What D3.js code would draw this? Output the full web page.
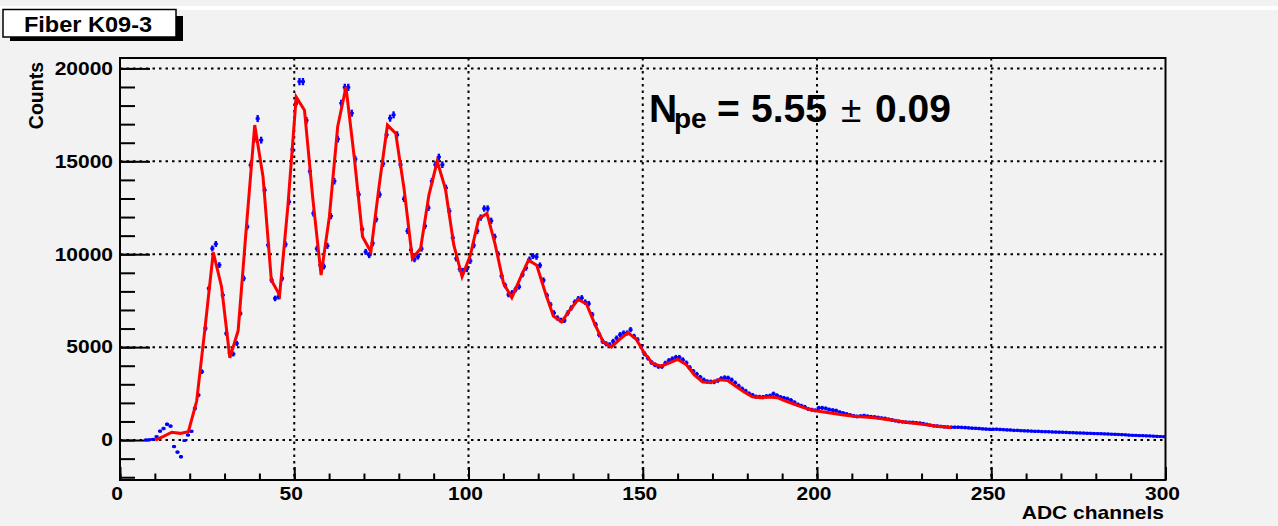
<!DOCTYPE html>
<html>
<head>
<meta charset="utf-8">
<script src="https://cdn.jsdelivr.net/npm/d3@7"></script>
<style>
  body { margin: 0; background: #f2f2f2; }
  svg { display: block; font-family: "Liberation Sans", Arial, Helvetica, sans-serif; font-weight: bold; }
  .domain { display: none; }
</style>
</head>
<body>
<div id="plot"></div>
<script>
// histogram contents, one value per ADC channel (bin i covers [i, i+1]), null = empty bin
var adcCounts = [
  null, null, null, null, null, null, null, 10, 20, 40,
  180, 480, 620, 850, 750, -350, -650, -900, -30, 270,
  470, 1700, 2420, 3680, 6010, 8160, 10310, 10550, 9415, 7800,
  5740, 4700, 4630, 5200, 6810, 8700, 11480, 14800, 16180, 17300,
  16140, 13450, 10490, 8610, 7620, 7710, 8700, 10530, 12820, 15640,
  18110, 19290, 19290, 17200, 14460, 12200, 10300, 9410, 9340, 10450,
  12050, 13930, 16200, 18125, 18980, 18980, 17590, 15125, 13210, 11340,
  10125, 9950, 10590, 11880, 13210, 14875, 16430, 17320, 17500, 16430,
  14820, 12980, 11250, 10230, 9730, 9875, 10300, 11520, 12500, 13930,
  14820, 15230, 14820, 13570, 12320, 10890, 9770, 9200, 9110, 9200,
  9640, 10480, 11250, 11970, 12460, 12460, 11800, 10940, 10000, 8830,
  8320, 7830, 7920, 8100, 8250, 8910, 9270, 9720, 9900, 9860,
  9400, 8600, 7780, 7290, 6840, 6570, 6440, 6440, 6840, 7110,
  7420, 7600, 7650, 7420, 7340, 6750, 6210, 5670, 5310, 5180,
  5130, 5310, 5490, 5670, 5760, 5760, 5940, 5580, 5400, 5040,
  4640, 4410, 4180, 4050, 3960, 3960, 4140, 4280, 4370, 4450,
  4450, 4320, 4150, 3900, 3700, 3545, 3380, 3240, 3150, 3130,
  3130, 3200, 3310, 3360, 3340, 3240, 3080, 2910, 2760, 2640,
  2500, 2420, 2330, 2320, 2310, 2360, 2380, 2490, 2400, 2310,
  2260, 2220, 2145, 2030, 1910, 1840, 1780, 1670, 1630, 1600,
  1730, 1730, 1700, 1640, 1610, 1580, 1500, 1450, 1400, 1345,
  1300, 1270, 1290, 1310, 1280, 1250, 1240, 1210, 1180, 1160,
  1120, 1080, 1040, 1000, 980, 960, 950, 945, 925, 910,
  880, 840, 800, 765, 750, 730, 710, 700, 690, 690,
  690, 680, 670, 655, 640, 630, 620, 600, 590, 580,
  580, 585, 570, 560, 545, 540, 520, 520, 505, 495,
  490, 480, 470, 470, 455, 450, 445, 435, 430, 425,
  420, 410, 400, 395, 385, 380, 375, 365, 360, 350,
  345, 340, 330, 325, 315, 310, 300, 290, 280, 265,
  255, 250, 240, 235, 225, 220, 210, 200, 190, 180
];

// fit function sampled by ROOT (polyline vertices)
var fitStart = 10.1;
var fitStep = 2.38;
var fitValues = [
  0, 200, 420, 360, 450, 2100, 6000, 10100, 8250, 4430,
  5890, 11500, 16950, 14170, 8610, 7800, 12600, 18470, 17750, 13000,
  8880, 12020, 16860, 19000, 15210, 10940, 10130, 13680, 16950, 16500,
  13540, 9770, 10310, 13180, 15000, 13500, 10500, 8790, 9950, 11900,
  12200, 10500, 8430, 7660, 8700, 9680, 9410, 7980, 6670, 6360,
  7000, 7570, 7320, 6240, 5290, 5000, 5420, 5780, 5420, 4660,
  4110, 3980, 4160, 4340, 4070, 3500, 3120, 3100, 3250, 3200,
  2900, 2580, 2330, 2280, 2310, 2280, 2100, 1940, 1770, 1630,
  1550, 1480, 1410, 1350, 1290, 1260, 1230, 1190, 1120, 1060,
  1000, 930, 880, 820, 760, 710, 660
];

var xMajor = [0, 50, 100, 150, 200, 250, 300];
var yMajor = [0, 5000, 10000, 15000, 20000];
var xMinor = d3.range(0, 301, 10);
var yMinor = d3.range(-2000, 20001, 1000);

var titleText = "Fiber K09-3";
var xTitle = "ADC channels";
var yTitle = "Counts";

var svgWidth = 1278;
var svgHeight = 526;

var frame = { left: 120, right: 1165.5, top: 58, bottom: 480 };

var svg = d3.select("#plot")
  .append("svg")
  .attr("width", svgWidth)
  .attr("height", svgHeight);

svg.append("rect")
  .attr("width", svgWidth)
  .attr("height", svgHeight)
  .attr("fill", "#f2f2f2");

// thin white strip at the very top of the canvas
svg.append("rect")
  .attr("x", 0).attr("y", 6)
  .attr("width", svgWidth).attr("height", 4)
  .attr("fill", "#ffffff");

var x = d3.scaleLinear().domain([0, 300]).range([frame.left, frame.right]);
var y = d3.scaleLinear().domain([-2150, 20560]).range([frame.bottom, frame.top]);

// Step 1: dotted grid
var grid = svg.append("g")
  .attr("stroke", "#000")
  .attr("stroke-width", 2)
  .attr("stroke-dasharray", "2.5,4");

grid.selectAll(".gx")
  .data(xMajor.slice(1, -1))
  .enter()
  .append("line")
  .attr("x1", d => x(d)).attr("x2", d => x(d))
  .attr("y1", frame.top).attr("y2", frame.bottom);

grid.selectAll(".gy")
  .data(yMajor)
  .enter()
  .append("line")
  .attr("y1", d => y(d)).attr("y2", d => y(d))
  .attr("x1", frame.left).attr("x2", frame.right);

// Step 2: ticks (ROOT style, pointing into the frame)
var tickStyle = function(g) {
  g.selectAll("line").attr("stroke", "#000").attr("stroke-width", 2);
};

svg.append("g")
  .attr("transform", `translate(${frame.left},0)`)
  .call(d3.axisLeft(y).tickValues(yMinor).tickSize(-15).tickFormat(""))
  .call(tickStyle);

svg.append("g")
  .attr("transform", `translate(${frame.left},0)`)
  .call(d3.axisLeft(y).tickValues(yMajor).tickSize(-30).tickFormat(""))
  .call(tickStyle);

svg.append("g")
  .attr("transform", `translate(0,${frame.bottom})`)
  .call(d3.axisBottom(x).tickValues(xMinor).tickSize(-6.5).tickFormat(""))
  .call(tickStyle);

svg.append("g")
  .attr("transform", `translate(0,${frame.bottom})`)
  .call(d3.axisBottom(x).tickValues(xMajor).tickSize(-13).tickFormat(""))
  .call(tickStyle);

// frame
svg.append("rect")
  .attr("x", frame.left).attr("y", frame.top)
  .attr("width", frame.right - frame.left)
  .attr("height", frame.bottom - frame.top)
  .attr("fill", "none")
  .attr("stroke", "#000")
  .attr("stroke-width", 2);

// tick labels
svg.selectAll(".ylab")
  .data(yMajor)
  .enter()
  .append("text")
  .attr("transform", d => `translate(113,${y(d) + 6.3}) scale(1.2,1)`)
  .attr("text-anchor", "end")
  .attr("font-size", 17.5)
  .attr("fill", "#000")
  .text(d => d);

svg.selectAll(".xlab")
  .data(xMajor)
  .enter()
  .append("text")
  .attr("transform", d => `translate(${x(d) - 3},500) scale(1.2,1)`)
  .attr("text-anchor", "middle")
  .attr("font-size", 17.5)
  .attr("fill", "#000")
  .text(d => d);

// axis titles
svg.append("text")
  .attr("transform", `translate(1164,519) scale(1.2,1)`)
  .attr("text-anchor", "end")
  .attr("font-size", 17.5)
  .text(xTitle);

svg.append("text")
  .attr("transform", "translate(43,62) rotate(-90)")
  .attr("text-anchor", "end")
  .attr("font-size", 19.5)
  .text(yTitle);

// Step 3: data points with error bars
var bins = adcCounts
  .map((v, i) => ({ bin: i, v: v }))
  .filter(d => d.v !== null);

var errOf = d => 70 + 0.9 * Math.sqrt(Math.abs(d.v));

var pts = svg.append("g")
  .attr("stroke", "#0000ff")
  .attr("stroke-width", 2.4);

pts.selectAll(".hbar")
  .data(bins)
  .enter()
  .append("line")
  .attr("x1", d => x(d.bin) - 0.3).attr("x2", d => x(d.bin + 1) + 0.3)
  .attr("y1", d => y(d.v)).attr("y2", d => y(d.v));

pts.selectAll(".vbar")
  .data(bins)
  .enter()
  .append("line")
  .attr("x1", d => x(d.bin + 0.5)).attr("x2", d => x(d.bin + 0.5))
  .attr("y1", d => y(d.v - errOf(d))).attr("y2", d => y(d.v + errOf(d)));

// Step 4: fit curve
var fitPts = fitValues.map((v, k) => [fitStart + k * fitStep, v]);

svg.append("path")
  .datum(fitPts)
  .attr("fill", "none")
  .attr("stroke", "#ff0000")
  .attr("stroke-width", 3)
  .attr("stroke-linejoin", "miter")
  .attr("d", d3.line().x(d => x(d[0])).y(d => y(d[1])));

// Step 5: result label
var res = svg.append("g").attr("fill", "#000");
res.append("text").attr("x", 649).attr("y", 121.7).attr("font-size", 39).text("N");
res.append("text").attr("x", 674).attr("y", 127.5).attr("font-size", 28).text("pe");
res.append("text").attr("x", 717).attr("y", 121.7).attr("font-size", 39).text("=");
res.append("text").attr("x", 751).attr("y", 121.7).attr("font-size", 39).text("5.55");
res.append("text").attr("x", 841).attr("y", 121.7).attr("font-size", 37)
  .attr("font-weight", "normal").text("\u00b1");
res.append("text").attr("x", 875).attr("y", 121.7).attr("font-size", 39).text("0.09");

// Step 6: title box with shadow
svg.append("rect")
  .attr("x", 10).attr("y", 16)
  .attr("width", 173).attr("height", 25)
  .attr("fill", "#000");

svg.append("rect")
  .attr("x", 3).attr("y", 9.5)
  .attr("width", 173).attr("height", 27.5)
  .attr("fill", "#ffffff")
  .attr("stroke", "#000")
  .attr("stroke-width", 1.5);

svg.append("text")
  .attr("transform", "translate(88,32) scale(1.07,1)")
  .attr("text-anchor", "middle")
  .attr("font-size", 22)
  .text(titleText);
</script>
</body>
</html>
